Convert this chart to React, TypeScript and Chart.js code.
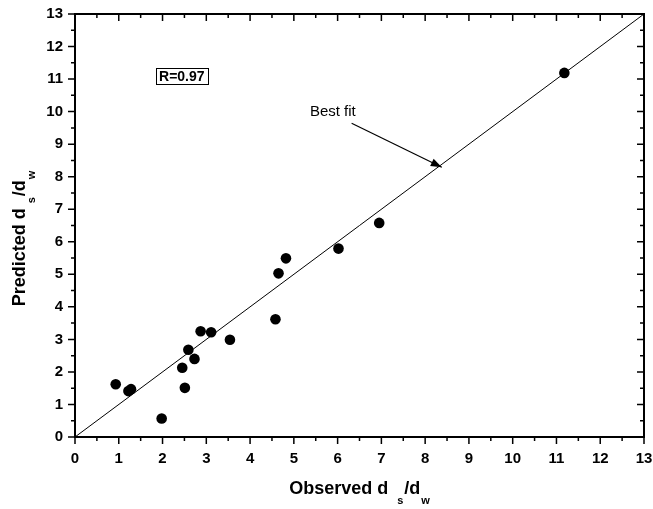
import React, { useEffect, useRef } from 'react';
import { Chart, registerables } from 'chart.js';

Chart.register(...registerables);

// ---- data ----
const observed = [0.93, 1.22, 1.28, 1.98, 2.51, 2.45, 2.59, 2.73, 2.87, 3.11, 3.54, 4.58, 4.65, 4.82, 6.02, 6.95, 11.18];
const predicted = [1.62, 1.41, 1.47, 0.57, 1.51, 2.13, 2.68, 2.40, 3.25, 3.22, 2.99, 3.62, 5.03, 5.49, 5.79, 6.58, 11.19];
const fitX = [0, 13];
const fitY = [0, 13];
const axisMin = 0;
const axisMax = 13;
const rLabel = 'R=0.97';
const rPos = [2.44, 11.09];
const fitLabel = 'Best fit';
const fitLabelPos = [5.89, 9.99];
const arrowFrom = [6.32, 9.64];
const arrowTo = [8.38, 8.29];

const FONT = 'Arial, "Liberation Sans", sans-serif';

type Part = { t?: string; size?: number; dy?: number; gap?: number };

const xTitle: Part[] = [
  { t: 'Observed d', size: 18 },
  { gap: 9 },
  { t: 's', size: 11, dy: 10 },
  { gap: 1 },
  { t: '/d', size: 18 },
  { gap: 1 },
  { t: 'w', size: 11, dy: 10 },
];
const yTitle: Part[] = [
  { t: 'Predicted d', size: 18 },
  { gap: 5 },
  { t: 's', size: 11, dy: 10 },
  { gap: 1 },
  { t: '/d', size: 18 },
  { gap: 1 },
  { t: 'w', size: 11, dy: 10 },
];

function partsWidth(ctx: CanvasRenderingContext2D, parts: Part[]) {
  let w = 0;
  for (const p of parts) {
    if (p.gap) w += p.gap;
    else if (p.t) {
      ctx.font = `bold ${p.size}px ${FONT}`;
      w += ctx.measureText(p.t).width;
    }
  }
  return w;
}

function drawParts(ctx: CanvasRenderingContext2D, parts: Part[]) {
  let x = -partsWidth(ctx, parts) / 2;
  ctx.textAlign = 'left';
  ctx.textBaseline = 'alphabetic';
  for (const p of parts) {
    if (p.gap) x += p.gap;
    else if (p.t) {
      ctx.font = `bold ${p.size}px ${FONT}`;
      ctx.fillText(p.t, x, p.dy || 0);
      x += ctx.measureText(p.t).width;
    }
  }
}

const framePlugin = {
  id: 'frameAndNotes',
  afterDraw(chart: any) {
    const { ctx, chartArea: a } = chart;
    const xs = chart.scales.x;
    const ys = chart.scales.y;
    ctx.save();
    ctx.strokeStyle = '#000';
    ctx.fillStyle = '#000';
    ctx.lineWidth = 2;
    ctx.strokeRect(a.left, a.top, a.right - a.left, a.bottom - a.top);
    ctx.lineWidth = 1.5;
    for (let v = axisMin; v <= axisMax + 1e-9; v += 0.5) {
      const major = Math.abs(v - Math.round(v)) < 1e-9;
      const len = major ? 7 : 4;
      const px = xs.getPixelForValue(v);
      const py = ys.getPixelForValue(v);
      ctx.beginPath();
      ctx.moveTo(px, a.bottom); ctx.lineTo(px, a.bottom + len);
      ctx.moveTo(px, a.top); ctx.lineTo(px, a.top + len);
      ctx.moveTo(a.left, py); ctx.lineTo(a.left - len, py);
      ctx.moveTo(a.right, py); ctx.lineTo(a.right - len, py);
      ctx.stroke();
    }

    // R box
    const rx = xs.getPixelForValue(rPos[0]);
    const ry = ys.getPixelForValue(rPos[1]);
    ctx.font = `bold 14px ${FONT}`;
    ctx.textAlign = 'center';
    ctx.textBaseline = 'middle';
    const rw = ctx.measureText(rLabel).width;
    ctx.fillText(rLabel, rx, ry + 1);
    ctx.lineWidth = 1;
    ctx.strokeRect(Math.round(rx - rw / 2 - 3) + 0.5, Math.round(ry - 8) + 0.5, Math.round(rw + 6), 16);

    // Best fit label + arrow
    ctx.font = `15px ${FONT}`;
    ctx.fillText(fitLabel, xs.getPixelForValue(fitLabelPos[0]), ys.getPixelForValue(fitLabelPos[1]));
    const x1 = xs.getPixelForValue(arrowFrom[0]);
    const y1 = ys.getPixelForValue(arrowFrom[1]);
    const x2 = xs.getPixelForValue(arrowTo[0]);
    const y2 = ys.getPixelForValue(arrowTo[1]);
    ctx.lineWidth = 1.2;
    ctx.beginPath();
    ctx.moveTo(x1, y1);
    ctx.lineTo(x2, y2);
    ctx.stroke();
    const ang = Math.atan2(y2 - y1, x2 - x1);
    const hl = 11, hw = 4;
    ctx.beginPath();
    ctx.moveTo(x2, y2);
    ctx.lineTo(x2 - hl * Math.cos(ang) + hw * Math.sin(ang), y2 - hl * Math.sin(ang) - hw * Math.cos(ang));
    ctx.lineTo(x2 - hl * Math.cos(ang) - hw * Math.sin(ang), y2 - hl * Math.sin(ang) + hw * Math.cos(ang));
    ctx.closePath();
    ctx.fill();

    // axis titles
    ctx.save();
    ctx.translate((a.left + a.right) / 2, 494);
    drawParts(ctx, xTitle);
    ctx.restore();
    ctx.save();
    ctx.translate(25, (a.top + a.bottom) / 2 + 13);
    ctx.rotate(-Math.PI / 2);
    drawParts(ctx, yTitle);
    ctx.restore();

    ctx.restore();
  },
};

export default function App() {
  const ref = useRef<HTMLCanvasElement | null>(null);
  useEffect(() => {
    if (!ref.current) return;
    const tickFont = { family: FONT, size: 15, weight: 'bold' as const };
    const zeroPad = (s: any) => {
      s.paddingTop = 0;
      s.paddingBottom = 0;
      s.paddingLeft = 0;
      s.paddingRight = 0;
    };
    const chart = new Chart(ref.current, {
      type: 'scatter',
      data: {
        datasets: [
          {
            type: 'line',
            data: fitX.map((v, i) => ({ x: v, y: fitY[i] })),
            borderColor: '#000',
            borderWidth: 1,
            pointRadius: 0,
            fill: false,
            order: 2,
          } as any,
          {
            type: 'scatter',
            data: observed.map((v, i) => ({ x: v, y: predicted[i] })),
            backgroundColor: '#000',
            borderColor: '#000',
            borderWidth: 0,
            pointRadius: 5.3,
            order: 1,
          },
        ],
      },
      options: {
        responsive: false,
        animation: false,
        layout: { padding: { top: 14, right: 9, left: 0, bottom: 0 } },
        plugins: { legend: { display: false }, tooltip: { enabled: false } },
        scales: {
          x: {
            type: 'linear',
            min: axisMin,
            max: axisMax,
            ticks: { stepSize: 1, autoSkip: false, color: '#000', font: tickFont, padding: 13, maxRotation: 0 },
            grid: { display: false, drawTicks: false },
            border: { display: false },
            afterFit: (s: any) => { s.height = 72; zeroPad(s); },
          },
          y: {
            type: 'linear',
            min: axisMin,
            max: axisMax,
            ticks: { stepSize: 1, autoSkip: false, color: '#000', font: tickFont, padding: 12 },
            grid: { display: false, drawTicks: false },
            border: { display: false },
            afterFit: (s: any) => { s.width = 75; zeroPad(s); },
          },
        },
      },
      plugins: [framePlugin],
    });
    return () => chart.destroy();
  }, []);
  return (
    <div style={{ position: 'fixed', left: 0, top: 0, width: 653, height: 509, background: '#fff' }}>
      <canvas ref={ref} width={653} height={509} />
    </div>
  );
}
